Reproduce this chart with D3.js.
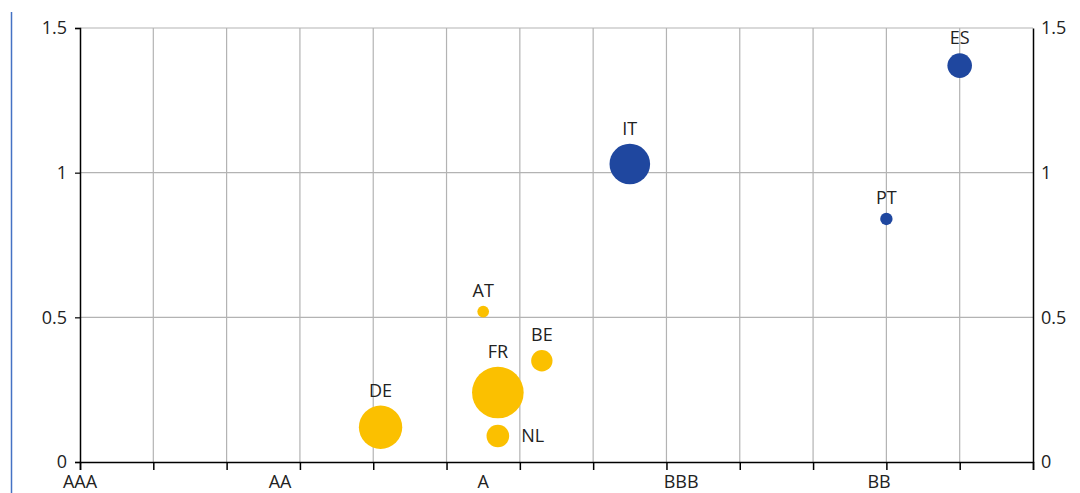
<!DOCTYPE html>
<html>
<head>
<meta charset="utf-8">
<script src="https://cdn.jsdelivr.net/npm/d3@7"></script>
<style>
  body { margin: 0; background: #fff; }
  svg text { font-family: "Open Sans", "Noto Sans", sans-serif; fill: #222; }
</style>
</head>
<body>
<div id="chart"></div>
<script>
// Country bubbles: rating notch (x), spread value (y), bubble size
var countries = ["DE", "AT", "FR", "NL", "BE", "IT", "PT", "ES"];
var notch = [4.1, 5.5, 5.7, 5.7, 6.3, 7.5, 11.0, 12.0];
var spread = [0.12, 0.52, 0.24, 0.09, 0.35, 1.03, 0.84, 1.37];
var size = [470, 34, 665, 128, 114, 412, 38, 151];
var group = ["core", "core", "core", "core", "core", "periphery", "periphery", "periphery"];

var ratingLabels = ["AAA", "AA", "A", "BBB", "BB"];
var ratingLabelNotch = [0, 2.73, 5.5, 8.2, 10.9];
var yTicks = [0, 0.5, 1, 1.5];

var width = 1080,
    height = 493,
    margin = {top: 28, right: 47, bottom: 31, left: 80};

var svg = d3.select("#chart")
    .append("svg")
    .attr("width", width)
    .attr("height", height);

var x = d3.scaleLinear().domain([0, 13]).range([margin.left, width - margin.right]);
var y = d3.scaleLinear().domain([0, 1.5]).range([height - margin.bottom, margin.top]);
var r = d3.scaleSqrt().domain([0, d3.max(size)]).range([0, 25.8]);
var colour = {core: "#fbc000", periphery: "#1f479f"};

// blue rule on the left
svg.append("line")
    .attr("x1", 11.5).attr("x2", 11.5)
    .attr("y1", 12).attr("y2", height)
    .attr("stroke", "#4472c4")
    .attr("stroke-width", 1.5);

// gridlines
svg.append("g")
    .selectAll("line")
    .data(d3.range(1, 13))
    .join("line")
    .attr("x1", d => x(d)).attr("x2", d => x(d))
    .attr("y1", y(1.5)).attr("y2", y(0))
    .attr("stroke", "#b3b3b3")
    .attr("stroke-width", 1.2);

svg.append("g")
    .selectAll("line")
    .data(yTicks.slice(1))
    .join("line")
    .attr("x1", x(0)).attr("x2", x(13))
    .attr("y1", d => y(d)).attr("y2", d => y(d))
    .attr("stroke", "#b3b3b3")
    .attr("stroke-width", 1.2);

// left axis
var yLeft = svg.append("g")
    .attr("transform", "translate(" + x(0) + ",0)")
    .call(d3.axisLeft(y).tickValues(yTicks).tickSize(5).tickPadding(8).tickFormat(d3.format("")));
yLeft.select(".domain").attr("stroke", "#000").attr("stroke-width", 1.5);
yLeft.selectAll(".tick line").attr("stroke", "#000").attr("stroke-width", 1.2);
yLeft.selectAll("text").style("font-size", "18px").attr("fill", "#222");

// right axis
var yRight = svg.append("g")
    .attr("transform", "translate(" + x(13) + ",0)")
    .call(d3.axisRight(y).tickValues(yTicks).tickSize(0).tickPadding(8).tickFormat(d3.format("")));
yRight.select(".domain").attr("stroke", "#000").attr("stroke-width", 1.5);
yRight.selectAll("text").style("font-size", "18px").attr("fill", "#222");

// bottom axis: notch ticks, rating labels on their own positions
var xAxis = svg.append("g")
    .attr("transform", "translate(0," + y(0) + ")")
    .call(d3.axisBottom(x).tickValues(d3.range(0, 14)).tickSize(8).tickFormat(""));
xAxis.select(".domain").attr("stroke", "#000").attr("stroke-width", 1.5);
xAxis.selectAll(".tick line").attr("stroke", "#000").attr("stroke-width", 1.5);

svg.append("g")
    .selectAll("text")
    .data(ratingLabels)
    .join("text")
    .attr("x", (d, i) => x(ratingLabelNotch[i]))
    .attr("y", y(0) + 26)
    .attr("text-anchor", "middle")
    .style("font-size", "18px")
    .text(d => d);

// bubbles
var bubbles = svg.append("g")
    .selectAll("g")
    .data(countries)
    .join("g")
    .attr("transform", (d, i) => "translate(" + x(notch[i]) + "," + y(spread[i]) + ")");

bubbles.append("circle")
    .attr("r", (d, i) => r(size[i]))
    .attr("fill", (d, i) => colour[group[i]]);

bubbles.append("text")
    .attr("x", d => d == "NL" ? r(size[3]) + 12 : 0)
    .attr("y", (d, i) => d == "NL" ? 6 : -r(size[i]) - 9)
    .attr("text-anchor", d => d == "NL" ? "start" : "middle")
    .style("font-size", "18px")
    .text(d => d);
</script>
</body>
</html>
